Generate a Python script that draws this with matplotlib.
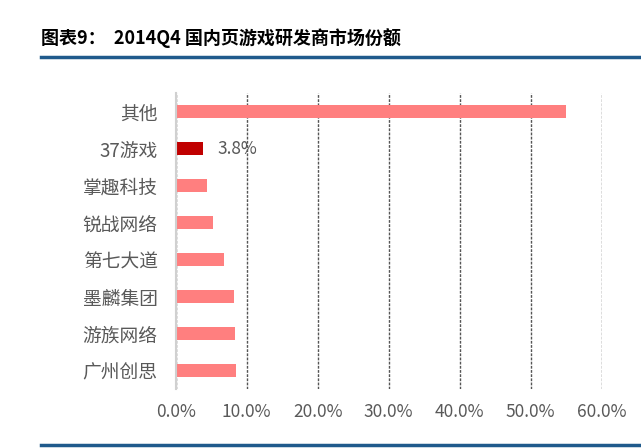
import matplotlib
matplotlib.use("Agg")
import matplotlib.pyplot as plt
from matplotlib.lines import Line2D

plt.rcParams['font.family'] = ['Noto Sans CJK SC', 'DejaVu Sans']

categories = ["其他", "37游戏", "掌趣科技", "锐战网络", "第七大道", "墨麟集团", "游族网络", "广州创思"]
values = [55.0, 3.8, 4.4, 5.2, 6.8, 8.2, 8.3, 8.5]
highlight = "37游戏"
xticks = [0, 10, 20, 30, 40, 50, 60]
xticklabels = ["0.0%", "10.0%", "20.0%", "30.0%", "40.0%", "50.0%", "60.0%"]
title = "图表9：  2014Q4 国内页游戏研发商市场份额"

W, H = 641, 448
fig = plt.figure(figsize=(W / 100, H / 100), dpi=100)
ax = fig.add_axes([175.7 / W, 1 - 389 / H, (601.7 - 175.7) / W, (389 - 93) / H])

colors = ["#C00000" if c == highlight else "#FF7F7F" for c in categories]
ypos = list(range(len(categories)))
ax.barh(ypos, values, height=0.36, color=colors, zorder=3)

for y, c, v in zip(ypos, categories, values):
    if c == highlight:
        ax.text(v + 2.1, y, f"{v:.1f}%", va="center", ha="left", fontsize=12.5, color="#595959")

ax.set_xlim(0, 60)
ax.set_ylim(len(categories) - 0.5, -0.5)
ax.set_yticks(ypos)
ax.set_yticklabels(categories, fontsize=13.5, color="#595959")
ax.set_xticks(xticks)
ax.set_xticklabels(xticklabels, fontsize=12.5, color="#595959")
ax.tick_params(axis="x", length=0, pad=10)
ax.tick_params(axis="y", length=0, pad=13)

ax.xaxis.grid(True, linestyle=(0, (2, 1)), color="#555555", linewidth=1.0, zorder=1)
ax.set_axisbelow(True)
for s in ["top", "right", "bottom"]:
    ax.spines[s].set_visible(False)
ax.spines["left"].set_color("#D0D0D0")
ax.spines["left"].set_linewidth(1.5)
ax.spines["left"].set_zorder(4)

fig.text(41 / W, 1 - 38 / H, title, fontsize=13, fontweight="bold", va="center", ha="left", color="black")
fig.add_artist(Line2D([41 / W, 1], [1 - 57 / H, 1 - 57 / H], color="#1F5A8C", linewidth=2.5, transform=fig.transFigure))
fig.add_artist(Line2D([41 / W, 1], [1 - 445 / H, 1 - 445 / H], color="#1F5A8C", linewidth=2.5, transform=fig.transFigure))

fig.savefig("out.png", dpi=100)
